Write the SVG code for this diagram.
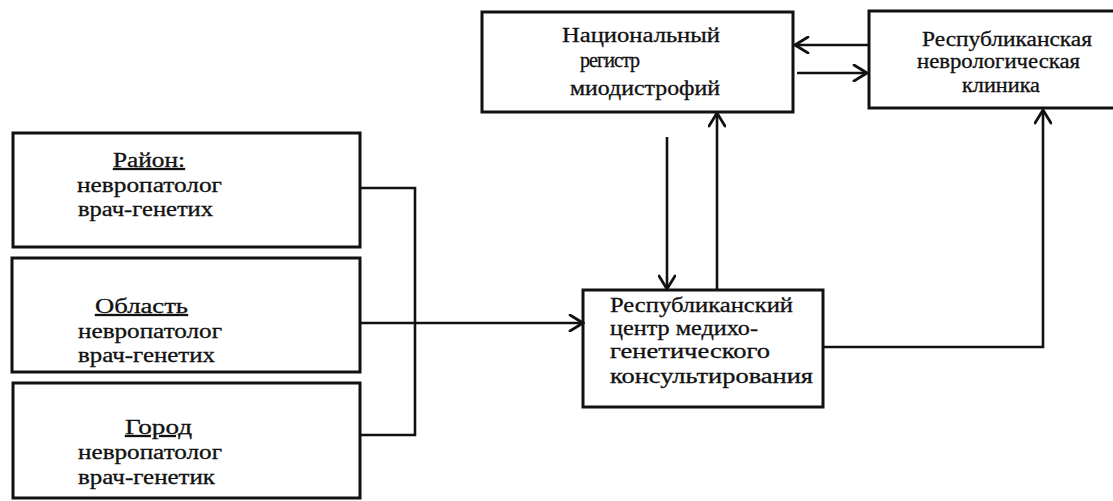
<svg xmlns="http://www.w3.org/2000/svg" width="1113" height="501" viewBox="0 0 1113 501">
<style>
  .box { fill: #fff; stroke: #111; stroke-width: 3; }
  .t { font-family: "Liberation Serif", "DejaVu Serif", serif; font-size: 20px; fill: #111; stroke: #111; stroke-width: 0.3; }
  .u { text-decoration: underline; }
  .c { fill: none; stroke: #111; stroke-width: 2.6; }
</style>
<defs>
  <marker id="arr" markerUnits="userSpaceOnUse" markerWidth="18" markerHeight="18" viewBox="0 0 18 18" refX="16" refY="9" orient="auto">
    <path d="M3,1 L16,9 L3,17" fill="none" stroke="#111" stroke-width="2.8" stroke-linecap="round"/>
  </marker>
</defs>
<rect width="1113" height="501" fill="#fff"/>

<g id="nat-registry">
  <rect class="box" x="482" y="12" width="311" height="100"/>
  <text class="t" x="562" y="42" textLength="158" lengthAdjust="spacingAndGlyphs">Национальный</text>
  <text class="t" x="580" y="67" textLength="60" lengthAdjust="spacing">регистр</text>
  <text class="t" x="570" y="95" textLength="150" lengthAdjust="spacingAndGlyphs">миодистрофий</text>
</g>

<g id="rep-neuro-clinic">
  <rect class="box" x="869" y="11" width="250" height="97"/>
  <text class="t" x="922" y="46" textLength="170" lengthAdjust="spacingAndGlyphs">Республиканская</text>
  <text class="t" x="917" y="68" textLength="163" lengthAdjust="spacingAndGlyphs">неврологическая</text>
  <text class="t" x="962" y="92" textLength="78" lengthAdjust="spacingAndGlyphs">клиника</text>
</g>

<g id="raion">
  <rect class="box" x="13" y="133" width="347" height="114"/>
  <text class="t u" x="113" y="167" textLength="72" lengthAdjust="spacingAndGlyphs">Район:</text>
  <text class="t" x="77" y="192" textLength="145" lengthAdjust="spacingAndGlyphs">невропатолог</text>
  <text class="t" x="78" y="216" textLength="135" lengthAdjust="spacingAndGlyphs">врач-генетих</text>
</g>

<g id="oblast">
  <rect class="box" x="12" y="258" width="348" height="114"/>
  <text class="t u" x="95" y="313" textLength="93" lengthAdjust="spacingAndGlyphs">Область </text>
  <text class="t" x="78" y="338" textLength="144" lengthAdjust="spacingAndGlyphs">невропатолог</text>
  <text class="t" x="78" y="362" textLength="137" lengthAdjust="spacingAndGlyphs">врач-генетих</text>
</g>

<g id="gorod">
  <rect class="box" x="13" y="383" width="347" height="115"/>
  <text class="t u" x="125" y="434" textLength="67" lengthAdjust="spacingAndGlyphs">Город</text>
  <text class="t" x="78" y="459" textLength="144" lengthAdjust="spacingAndGlyphs">невропатолог</text>
  <text class="t" x="78" y="484" textLength="137" lengthAdjust="spacingAndGlyphs">врач-генетик</text>
</g>

<g id="rep-center">
  <rect class="box" x="583" y="290" width="240" height="117"/>
  <text class="t" x="610" y="312" textLength="183" lengthAdjust="spacingAndGlyphs">Республиканский</text>
  <text class="t" x="610" y="335" textLength="148" lengthAdjust="spacingAndGlyphs">центр медихо-</text>
  <text class="t" x="610" y="358" textLength="160" lengthAdjust="spacingAndGlyphs">генетического</text>
  <text class="t" x="610" y="383" textLength="203" lengthAdjust="spacingAndGlyphs">консультирования</text>
</g>

<g id="connectors">
  <polyline class="c" points="360,188 415,188 415,435 360,435"/>
  <line class="c" x1="360" y1="323" x2="583" y2="323" marker-end="url(#arr)"/>
  <line class="c" x1="667" y1="137" x2="667" y2="289" marker-end="url(#arr)"/>
  <line class="c" x1="717" y1="290" x2="717" y2="113" marker-end="url(#arr)"/>
  <line class="c" x1="869" y1="45" x2="795" y2="45" marker-end="url(#arr)"/>
  <line class="c" x1="797" y1="73" x2="867" y2="73" marker-end="url(#arr)"/>
  <polyline class="c" points="823,347 1043,347 1043,110" marker-end="url(#arr)"/>
</g>
</svg>
